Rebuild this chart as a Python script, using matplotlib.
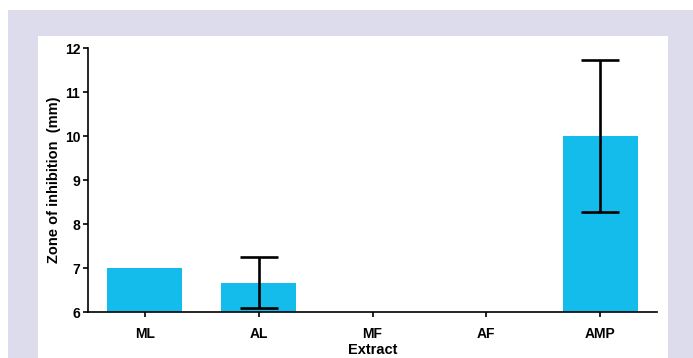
import matplotlib
matplotlib.use("Agg")
import matplotlib.pyplot as plt
from matplotlib.patches import Rectangle

# data
extracts = ["ML", "AL", "MF", "AF", "AMP"]
zone_mm = [7.0, 6.67, 0.0, 0.0, 10.0]
zone_err = [0.0, 0.58, 0.0, 0.0, 1.73]

plt.rcParams['font.family'] = ['Liberation Sans', 'DejaVu Sans']

fig = plt.figure(figsize=(6.93, 3.58), dpi=100)
fig.patch.set_facecolor("white")
# lavender frame and white panel
fig.patches.append(Rectangle((8/693, 0), 1 - 8/693, (358-10)/358, transform=fig.transFigure,
                             facecolor="#dcdcec", edgecolor="none", zorder=-2))
fig.patches.append(Rectangle((38/693, 0), (668-38)/693, (358-36)/358, transform=fig.transFigure,
                             facecolor="white", edgecolor="none", zorder=-1))

ax = fig.add_axes([88/693, 46/358, (657-88)/693, (312-48)/358])
ax.patch.set_visible(False)

x = range(len(extracts))
ax.bar(x, zone_mm, width=0.66, color="#14bcec", zorder=2)
for i, (v, e) in enumerate(zip(zone_mm, zone_err)):
    if e > 0:
        ax.errorbar(i, v, yerr=e, fmt="none", ecolor="black", elinewidth=1.9,
                    capsize=13.5, capthick=1.9, zorder=3)

ax.set_xlim(-0.5, 4.5)
ax.set_ylim(6, 12)
ax.set_xticks(list(x))
ax.set_xticklabels(extracts, fontsize=10, fontweight="bold")
ax.set_yticks(range(6, 13))
ax.set_yticklabels([str(t) for t in range(6, 13)], fontsize=10, fontweight="bold")
for s in ["top", "right"]:
    ax.spines[s].set_visible(False)
for s in ["left", "bottom"]:
    ax.spines[s].set_linewidth(1.2)
ax.tick_params(axis="both", width=1.2, length=3.5, pad=2)
ax.tick_params(axis="x", pad=7)
ax.set_xlabel("Extract", fontsize=10.5, fontweight="bold", labelpad=2)
ax.set_ylabel("Zone of inhibition  (mm)", fontsize=10.5, fontweight="bold", labelpad=3)

fig.savefig("out.png", dpi=100)
